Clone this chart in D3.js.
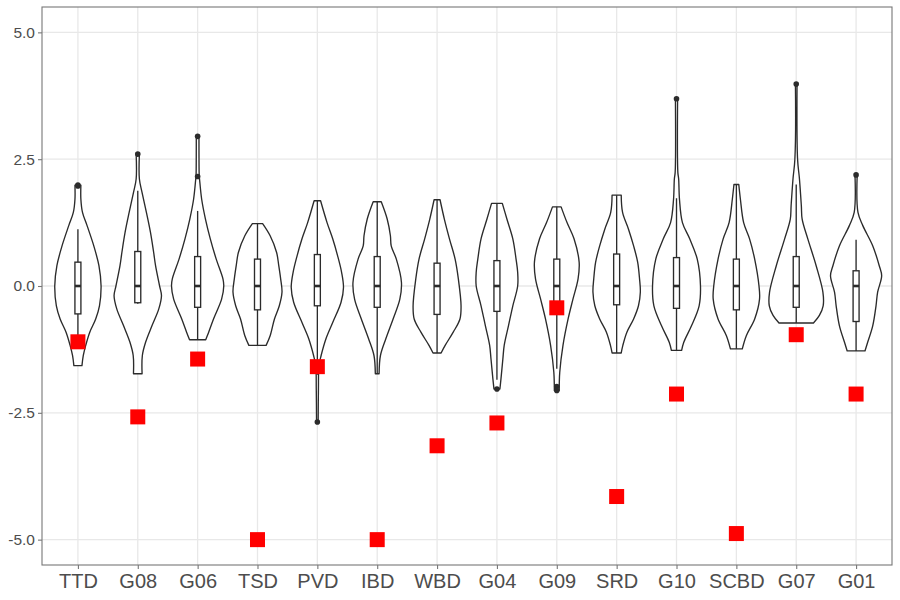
<!DOCTYPE html>
<html lang="en">
	<head>
		<meta charset="utf-8">
		<title>Violin plot</title>
		<script src="https://d3js.org/d3.v7.min.js"></script>
		<style>
			body { margin: 0; background: #fff; }
			text { font-family: "Liberation Sans", Arial, sans-serif; }
		</style>
	</head>
	<body>
		<div id="chart"></div>
		<script type="text/javascript">
		var w = 900
		var h = 600
		var panel = {left: 42, right: 892, top: 7, bottom: 565}

		// categories along the x axis
		var categories = ['TTD', 'G08', 'G06', 'TSD', 'PVD', 'IBD', 'WBD', 'G04', 'G09', 'SRD', 'G10', 'SCBD', 'G07', 'G01']
		var yTicks = [-5, -2.5, 0, 2.5, 5]

		// red squares (one value per category)
		var markValues = [-1.10, -2.58, -1.44, -5.00, -1.59, -5.00, -3.15, -2.70, -0.43, -4.15, -2.13, -4.88, -0.96, -2.13]

		// boxplot stats
		var boxQ1 = [-0.55, -0.33, -0.42, -0.47, -0.39, -0.42, -0.56, -0.50, -0.50, -0.37, -0.44, -0.47, -0.42, -0.70]
		var boxMedian = [0, 0, 0, 0, 0, 0, 0, 0, 0, 0, 0, 0, 0, 0]
		var boxQ3 = [0.47, 0.68, 0.58, 0.53, 0.62, 0.58, 0.45, 0.50, 0.53, 0.63, 0.56, 0.53, 0.58, 0.30]
		var whiskerLow = [-1.10, -0.35, -1.06, -1.17, -1.75, -1.73, -1.32, -1.85, -1.63, -1.32, -1.27, -1.24, -0.73, -1.28]
		var whiskerHigh = [1.12, 1.88, 1.48, 1.23, 1.68, 1.66, 1.70, 1.63, 1.56, 1.79, 1.73, 2.00, 2.00, 0.91]
		var outliers = [[1.97, 1.99], [2.60], [2.16, 2.95], [], [-2.68], [], [], [-2.03], [-1.98, -2.06], [], [3.69], [], [3.98], [2.19]]

		// violin outlines: y values (top to bottom) and relative density (1 = widest)
		var violinY = [
			[1.99, 1.71, 1.45, 1.19, 0.79, 0.40, 0.00, -0.39, -0.65, -0.91, -1.17, -1.37, -1.57],
			[2.60, 2.11, 1.84, 1.45, 1.06, 0.66, 0.40, 0.00, -0.19, -0.45, -0.78, -1.11, -1.37, -1.73],
			[2.95, 2.16, 2.11, 1.71, 1.32, 0.93, 0.53, 0.14, 0.00, -0.26, -0.65, -0.91, -1.06],
			[1.23, 0.99, 0.66, 0.40, 0.14, -0.12, -0.39, -0.65, -0.98, -1.17],
			[1.68, 1.25, 0.93, 0.60, 0.27, -0.03, -0.32, -0.72, -1.04, -1.37, -1.57, -2.03, -2.68],
			[1.66, 1.32, 0.99, 0.79, 0.53, 0.07, -0.26, -0.65, -1.04, -1.37, -1.73],
			[1.70, 1.32, 0.93, 0.53, 0.14, -0.39, -0.65, -0.91, -1.17, -1.32],
			[1.63, 1.32, 0.93, 0.53, 0.27, 0.00, -0.39, -0.78, -1.17, -1.44, -1.83, -2.03],
			[1.56, 1.25, 0.93, 0.47, 0.14, -0.26, -0.65, -1.17, -1.70, -2.06],
			[1.79, 1.45, 1.12, 0.79, 0.47, 0.14, -0.12, -0.39, -0.65, -0.91, -1.17, -1.32],
			[3.69, 2.24, 2.11, 1.71, 1.25, 0.93, 0.53, 0.00, -0.39, -0.78, -1.11, -1.27],
			[2.00, 1.71, 1.25, 0.93, 0.53, 0.00, -0.26, -0.65, -0.98, -1.24],
			[3.98, 2.50, 2.11, 1.58, 1.32, 0.93, 0.40, -0.12, -0.39, -0.58, -0.73],
			[2.19, 1.45, 1.19, 0.79, 0.40, 0.20, -0.12, -0.39, -0.78, -1.11, -1.28]
		]
		var violinDensity = [
			[0.11, 0.11, 0.17, 0.34, 0.59, 0.78, 0.86, 0.80, 0.66, 0.44, 0.29, 0.20, 0.15],
			[0.06, 0.06, 0.16, 0.32, 0.47, 0.59, 0.66, 0.81, 0.88, 0.78, 0.53, 0.29, 0.17, 0.16],
			[0.05, 0.06, 0.07, 0.15, 0.29, 0.47, 0.69, 0.94, 0.97, 0.89, 0.59, 0.41, 0.30],
			[0.19, 0.47, 0.71, 0.79, 0.86, 0.91, 0.81, 0.63, 0.47, 0.32],
			[0.12, 0.36, 0.57, 0.75, 0.90, 0.97, 0.88, 0.57, 0.32, 0.14, 0.06, 0.04, 0.03],
			[0.15, 0.37, 0.49, 0.52, 0.71, 0.90, 0.84, 0.59, 0.32, 0.12, 0.07],
			[0.11, 0.27, 0.46, 0.67, 0.79, 0.89, 0.85, 0.60, 0.30, 0.15],
			[0.20, 0.37, 0.59, 0.71, 0.77, 0.77, 0.59, 0.43, 0.27, 0.22, 0.15, 0.11],
			[0.16, 0.38, 0.64, 0.83, 0.79, 0.60, 0.42, 0.23, 0.11, 0.09],
			[0.17, 0.22, 0.44, 0.63, 0.78, 0.85, 0.88, 0.81, 0.63, 0.38, 0.23, 0.17],
			[0.04, 0.05, 0.08, 0.11, 0.22, 0.49, 0.77, 0.89, 0.84, 0.56, 0.27, 0.19],
			[0.09, 0.15, 0.27, 0.49, 0.68, 0.84, 0.86, 0.68, 0.37, 0.22],
			[0.03, 0.05, 0.12, 0.19, 0.22, 0.43, 0.74, 0.99, 1.00, 0.86, 0.64],
			[0.04, 0.07, 0.25, 0.62, 0.86, 0.95, 0.80, 0.74, 0.62, 0.43, 0.33]
		]

		var svg = d3.select('#chart').append('svg').attr('width', w).attr('height', h)

		var xScale = d3.scalePoint().domain(categories).range([panel.left, panel.right]).padding(0.6)
		var yScale = d3.scaleLinear().domain([-5.5, 5.5]).range([panel.bottom, panel.top])
		var step = xScale.step()
		var widthScale = d3.scaleLinear().domain([0, 1]).range([0, step * 0.45])
		var boxHalf = step * 0.05
		var ink = '#2b2b2b'

		/* gridlines */
		var grid = svg.append('g')
		grid.selectAll('.hgrid').data(yTicks).enter().append('line')
			.attr('x1', panel.left).attr('x2', panel.right)
			.attr('y1', d => yScale(d)).attr('y2', d => yScale(d))
			.attr('stroke', '#e8e8e8').attr('stroke-width', 1.3)
		grid.selectAll('.vgrid').data(categories).enter().append('line')
			.attr('x1', d => xScale(d)).attr('x2', d => xScale(d))
			.attr('y1', panel.top).attr('y2', panel.bottom)
			.attr('stroke', '#e8e8e8').attr('stroke-width', 1.3)

		/* violins */
		var area = d3.area()
			.y(d => yScale(d.y))
			.x0(d => d.cx - widthScale(d.dens))
			.x1(d => d.cx + widthScale(d.dens))
			.curve(d3.curveCatmullRom)

		categories.forEach(function(cat, i) {
			var cx = xScale(cat)
			var pts = violinY[i].map((y, j) => ({y: y, dens: violinDensity[i][j], cx: cx}))
			svg.append('path').attr('d', area(pts))
				.attr('fill', '#fff').attr('stroke', ink).attr('stroke-width', 1.35)
				.attr('stroke-linejoin', 'round')

			var g = svg.append('g').attr('stroke', ink).attr('stroke-width', 1.35)
			// whiskers
			g.append('line').attr('x1', cx).attr('x2', cx)
				.attr('y1', yScale(whiskerHigh[i])).attr('y2', yScale(boxQ3[i]))
			g.append('line').attr('x1', cx).attr('x2', cx)
				.attr('y1', yScale(boxQ1[i])).attr('y2', yScale(whiskerLow[i]))
			// box
			g.append('rect').attr('x', cx - boxHalf).attr('width', boxHalf * 2)
				.attr('y', yScale(boxQ3[i])).attr('height', yScale(boxQ1[i]) - yScale(boxQ3[i]))
				.attr('fill', '#fff')
			g.append('line').attr('x1', cx - boxHalf).attr('x2', cx + boxHalf)
				.attr('y1', yScale(boxMedian[i])).attr('y2', yScale(boxMedian[i]))
				.attr('stroke-width', 2.6)
			// outliers
			g.selectAll('circle').data(outliers[i]).enter().append('circle')
				.attr('cx', cx).attr('cy', d => yScale(d)).attr('r', 2.8)
				.attr('fill', ink).attr('stroke', 'none')
		})

		/* red squares */
		var sq = 15
		svg.selectAll('.mark').data(markValues).enter().append('rect').attr('class', 'mark')
			.attr('x', (d, i) => xScale(categories[i]) - sq / 2)
			.attr('y', d => yScale(d) - sq / 2)
			.attr('width', sq).attr('height', sq)
			.attr('fill', '#ff0000')

		/* panel border */
		svg.append('rect').attr('x', panel.left).attr('y', panel.top)
			.attr('width', panel.right - panel.left).attr('height', panel.bottom - panel.top)
			.attr('fill', 'none').attr('stroke', '#777').attr('stroke-width', 1.1)

		/* axes */
		var yAxis = d3.axisLeft(yScale).tickValues(yTicks).tickFormat(d => d.toFixed(1))
			.tickSize(4).tickPadding(3)
		var gy = svg.append('g').attr('transform', 'translate(' + panel.left + ',0)').call(yAxis)
		gy.select('.domain').remove()
		gy.selectAll('line').attr('stroke', '#777').attr('stroke-width', 1.1)
		gy.selectAll('text').attr('fill', '#4d4d4d').style('font-size', '15.5px')

		var xAxis = d3.axisBottom(xScale).tickSize(4).tickPadding(5)
		var gx = svg.append('g').attr('transform', 'translate(0,' + panel.bottom + ')').call(xAxis)
		gx.select('.domain').remove()
		gx.selectAll('line').attr('stroke', '#777').attr('stroke-width', 1.1)
		gx.selectAll('text').attr('fill', '#4d4d4d').style('font-size', '20px')
		</script>
	</body>
</html>
